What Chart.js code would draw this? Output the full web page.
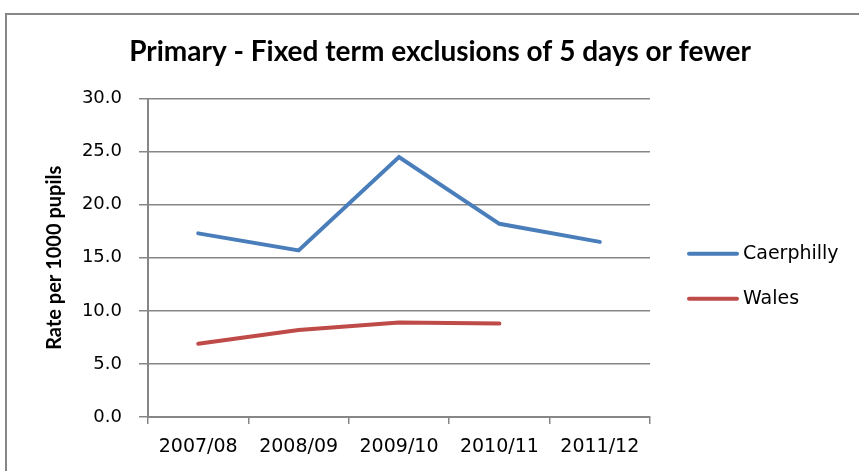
<!DOCTYPE html>
<html>
<head>
<meta charset="utf-8">
<script src="https://cdn.jsdelivr.net/npm/chart.js@4"></script>
<style>
  html, body { margin: 0; padding: 0; background: #fff; }
</style>
</head>
<body>
<canvas id="myChart" width="859" height="471"></canvas>
<script>
// chart data
const years = ['2007/08', '2008/09', '2009/10', '2010/11', '2011/12'];
const caerphilly = [17.3, 15.7, 24.5, 18.2, 16.5];
const wales = [6.9, 8.2, 8.9, 8.8, null];
const yTicks = [0, 5, 10, 15, 20, 25, 30];

const grey = '#868686';
const titleFont = 'Lato, "Liberation Sans", sans-serif';
const tickFont = '"DejaVu Sans", sans-serif';

// grey frame around the whole chart, like the spreadsheet export
const frame = {
  id: 'frame',
  beforeDraw(chart) {
    const { ctx } = chart;
    ctx.save();
    ctx.fillStyle = '#fff';
    ctx.fillRect(0, 0, chart.width, chart.height);
    ctx.strokeStyle = grey;
    ctx.lineWidth = 2;
    ctx.strokeRect(6, 14, chart.width + 20, chart.height + 20);
    ctx.restore();
  }
};

// legend to the right of the plot: line sample + series name
const sideLegend = {
  id: 'sideLegend',
  afterDraw(chart) {
    const { ctx, chartArea } = chart;
    const mid = (chartArea.top + chartArea.bottom) / 2;
    ctx.save();
    ctx.font = '19px ' + tickFont;
    ctx.textBaseline = 'middle';
    chart.data.datasets.forEach((ds, i) => {
      const y = mid - 4 + i * 45;
      const x = chartArea.right + 39;
      ctx.strokeStyle = ds.borderColor;
      ctx.lineWidth = 4;
      ctx.lineCap = 'round';
      ctx.beginPath();
      ctx.moveTo(x, y);
      ctx.lineTo(x + 48, y);
      ctx.stroke();
      ctx.fillStyle = '#000';
      ctx.fillText(ds.label, x + 54, y);
    });
    ctx.restore();
  }
};

const ctx = document.getElementById('myChart');
const myChart = new Chart(ctx, {
  type: 'line',
  data: {
    labels: years,
    datasets: [{
      label: 'Caerphilly',
      data: caerphilly,
      borderColor: '#4a7ebb',
      backgroundColor: '#4a7ebb',
      borderWidth: 4,
      borderCapStyle: 'round',
      pointRadius: 0,
      tension: 0,
      fill: false
    }, {
      label: 'Wales',
      data: wales,
      borderColor: '#be4b48',
      backgroundColor: '#be4b48',
      borderWidth: 4,
      borderCapStyle: 'round',
      pointRadius: 0,
      tension: 0,
      fill: false
    }]
  },
  options: {
    responsive: false,
    animation: false,
    layout: { padding: { left: 30, right: 9, top: 10, bottom: 0 } },
    plugins: {
      title: {
        display: true,
        text: 'Primary - Fixed term exclusions of 5 days or fewer',
        color: '#000',
        font: { family: titleFont, size: 28, weight: 'bold' },
        padding: { top: 25, bottom: 30 }
      },
      legend: { display: false },
      tooltip: { enabled: false }
    },
    scales: {
      x: {
        offset: true,
        grid: {
          display: true,
          drawOnChartArea: false,
          drawTicks: true,
          tickLength: 7,
          color: grey,
          lineWidth: 1.5,
          offset: true
        },
        border: { color: grey, width: 2 },
        ticks: {
          color: '#000',
          font: { family: tickFont, size: 19, lineHeight: 1 },
          maxRotation: 0,
          padding: 14
        }
      },
      y: {
        min: 0,
        max: 30,
        afterBuildTicks(scale) {
          scale.ticks = yTicks.map(v => ({ value: v }));
        },
        afterFit(scale) {
          scale.width = 118;
        },
        grid: { color: grey, lineWidth: 1.5, tickLength: 9 },
        border: { color: grey, width: 2 },
        ticks: {
          color: '#000',
          font: { family: tickFont, size: 18 },
          padding: 17,
          callback: v => v.toFixed(1)
        },
        title: {
          display: true,
          text: 'Rate per 1000 pupils',
          color: '#000',
          font: { family: titleFont, size: 20, weight: 'bold' },
          padding: { top: 13, bottom: 0 }
        }
      },
      // empty axis that only keeps room free for the legend on the right
      legendSpace: {
        type: 'linear',
        position: 'right',
        grid: { display: false },
        border: { display: false },
        ticks: { display: false },
        afterFit(scale) {
          scale.width = 200;
        }
      }
    }
  },
  plugins: [frame, sideLegend]
});
</script>
</body>
</html>
